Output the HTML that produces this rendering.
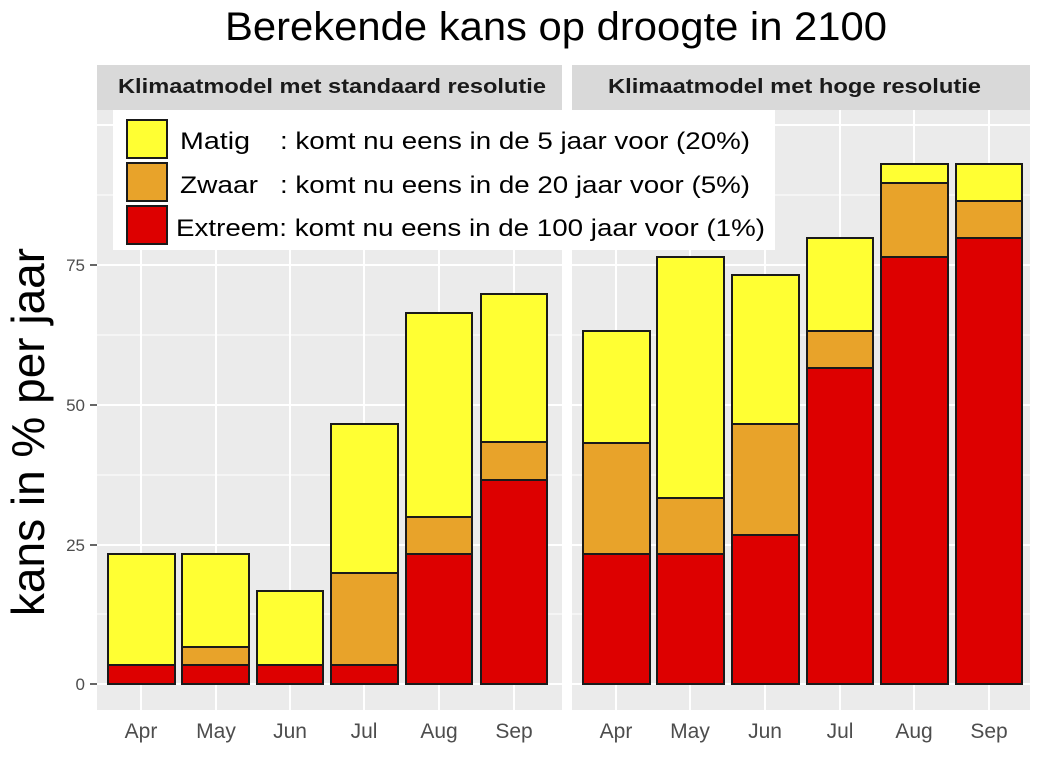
<!DOCTYPE html>
<html><head><style>
body{margin:0;background:#fff;}
svg text{font-family:"Liberation Sans",sans-serif;}
</style></head><body>
<svg width="1044" height="760" xmlns="http://www.w3.org/2000/svg">
<rect width="1044" height="760" fill="#fff"/>
<text x="225" y="40" font-size="40" textLength="662" lengthAdjust="spacingAndGlyphs" fill="#000">Berekende kans op droogte in 2100</text>
<text transform="translate(44,432) rotate(-90)" font-size="46" text-anchor="middle" fill="#000">kans in % per jaar</text>
<rect x="97" y="65" width="465" height="45" fill="#d9d9d9"/>
<rect x="572" y="65" width="458" height="45" fill="#d9d9d9"/>
<text x="118" y="93" font-size="20" font-weight="bold" textLength="428" lengthAdjust="spacingAndGlyphs" fill="#1a1a1a">Klimaatmodel met standaard resolutie</text>
<text x="608" y="93" font-size="20" font-weight="bold" textLength="373" lengthAdjust="spacingAndGlyphs" fill="#1a1a1a">Klimaatmodel met hoge resolutie</text>
<rect x="97" y="110" width="465" height="600" fill="#ebebeb"/>
<rect x="572" y="110" width="458" height="600" fill="#ebebeb"/>
<g stroke="#fff">
<g stroke-width="1">
<line x1="97" x2="562" y1="614" y2="614"/><line x1="97" x2="562" y1="475" y2="475"/><line x1="97" x2="562" y1="335" y2="335"/><line x1="97" x2="562" y1="195" y2="195"/>
<line x1="572" x2="1030" y1="614" y2="614"/><line x1="572" x2="1030" y1="475" y2="475"/><line x1="572" x2="1030" y1="335" y2="335"/><line x1="572" x2="1030" y1="195" y2="195"/>
</g>
<g stroke-width="2">
<line x1="97" x2="562" y1="684" y2="684"/><line x1="97" x2="562" y1="545" y2="545"/><line x1="97" x2="562" y1="405" y2="405"/><line x1="97" x2="562" y1="265" y2="265"/><line x1="97" x2="562" y1="125" y2="125"/>
<line x1="572" x2="1030" y1="684" y2="684"/><line x1="572" x2="1030" y1="545" y2="545"/><line x1="572" x2="1030" y1="405" y2="405"/><line x1="572" x2="1030" y1="265" y2="265"/><line x1="572" x2="1030" y1="125" y2="125"/>
<line x1="141" x2="141" y1="110" y2="710"/><line x1="216" x2="216" y1="110" y2="710"/><line x1="290" x2="290" y1="110" y2="710"/><line x1="364" x2="364" y1="110" y2="710"/><line x1="439" x2="439" y1="110" y2="710"/><line x1="514" x2="514" y1="110" y2="710"/>
<line x1="616" x2="616" y1="110" y2="710"/><line x1="690" x2="690" y1="110" y2="710"/><line x1="765" x2="765" y1="110" y2="710"/><line x1="840" x2="840" y1="110" y2="710"/><line x1="914" x2="914" y1="110" y2="710"/><line x1="989" x2="989" y1="110" y2="710"/>
</g></g>
<g stroke="#1a1a1a" stroke-width="2">
<rect x="108" y="554" width="67" height="111" fill="#ffff33"/><rect x="108" y="665" width="67" height="19" fill="#dd0000"/>
<rect x="182" y="554" width="67" height="93" fill="#ffff33"/><rect x="182" y="647" width="67" height="18" fill="#e8a32a"/><rect x="182" y="665" width="67" height="19" fill="#dd0000"/>
<rect x="257" y="591" width="66" height="74" fill="#ffff33"/><rect x="257" y="665" width="66" height="19" fill="#dd0000"/>
<rect x="331" y="424" width="67" height="149" fill="#ffff33"/><rect x="331" y="573" width="67" height="92" fill="#e8a32a"/><rect x="331" y="665" width="67" height="19" fill="#dd0000"/>
<rect x="406" y="313" width="66" height="204" fill="#ffff33"/><rect x="406" y="517" width="66" height="37" fill="#e8a32a"/><rect x="406" y="554" width="66" height="130" fill="#dd0000"/>
<rect x="481" y="294" width="66" height="148" fill="#ffff33"/><rect x="481" y="442" width="66" height="38" fill="#e8a32a"/><rect x="481" y="480" width="66" height="204" fill="#dd0000"/>
<rect x="583" y="331" width="67" height="112" fill="#ffff33"/><rect x="583" y="443" width="67" height="111" fill="#e8a32a"/><rect x="583" y="554" width="67" height="130" fill="#dd0000"/>
<rect x="657" y="257" width="67" height="241" fill="#ffff33"/><rect x="657" y="498" width="67" height="56" fill="#e8a32a"/><rect x="657" y="554" width="67" height="130" fill="#dd0000"/>
<rect x="732" y="275" width="67" height="149" fill="#ffff33"/><rect x="732" y="424" width="67" height="111" fill="#e8a32a"/><rect x="732" y="535" width="67" height="149" fill="#dd0000"/>
<rect x="807" y="238" width="66" height="93" fill="#ffff33"/><rect x="807" y="331" width="66" height="37" fill="#e8a32a"/><rect x="807" y="368" width="66" height="316" fill="#dd0000"/>
<rect x="881" y="164" width="67" height="19" fill="#ffff33"/><rect x="881" y="183" width="67" height="74" fill="#e8a32a"/><rect x="881" y="257" width="67" height="427" fill="#dd0000"/>
<rect x="956" y="164" width="66" height="37" fill="#ffff33"/><rect x="956" y="201" width="66" height="37" fill="#e8a32a"/><rect x="956" y="238" width="66" height="446" fill="#dd0000"/>
</g>
<g fill="#4d4d4d" font-size="17" text-anchor="end">
<text x="85" y="690">0</text><text x="85" y="551">25</text><text x="85" y="411">50</text><text x="85" y="271">75</text>
</g>
<g stroke="#333" stroke-width="1.5">
<line x1="90" x2="97" y1="684" y2="684"/><line x1="90" x2="97" y1="545" y2="545"/><line x1="90" x2="97" y1="405" y2="405"/><line x1="90" x2="97" y1="265" y2="265"/>
</g>
<g fill="#4d4d4d" font-size="21" text-anchor="middle">
<text x="141" y="738">Apr</text><text x="216" y="738">May</text><text x="290" y="738">Jun</text><text x="364" y="738">Jul</text><text x="439" y="738">Aug</text><text x="514" y="738">Sep</text>
<text x="616" y="738">Apr</text><text x="690" y="738">May</text><text x="765" y="738">Jun</text><text x="840" y="738">Jul</text><text x="914" y="738">Aug</text><text x="989" y="738">Sep</text>
</g>
<rect x="113" y="110" width="662" height="140" fill="#fff"/>
<g stroke="#1a1a1a" stroke-width="2">
<rect x="127" y="120" width="40" height="38" fill="#ffff33"/>
<rect x="127" y="163" width="40" height="38" fill="#e8a32a"/>
<rect x="127" y="206" width="40" height="38" fill="#dd0000"/>
</g>
<g font-size="24" fill="#000">
<text x="180" y="149" textLength="70" lengthAdjust="spacingAndGlyphs">Matig</text><text x="280" y="149" textLength="470" lengthAdjust="spacingAndGlyphs">: komt nu eens in de 5 jaar voor (20%)</text>
<text x="180" y="193" textLength="78" lengthAdjust="spacingAndGlyphs">Zwaar</text><text x="280" y="193" textLength="470" lengthAdjust="spacingAndGlyphs">: komt nu eens in de 20 jaar voor (5%)</text>
<text x="176" y="236" textLength="589" lengthAdjust="spacingAndGlyphs">Extreem: komt nu eens in de 100 jaar voor (1%)</text>
</g>
</svg>
</body></html>
